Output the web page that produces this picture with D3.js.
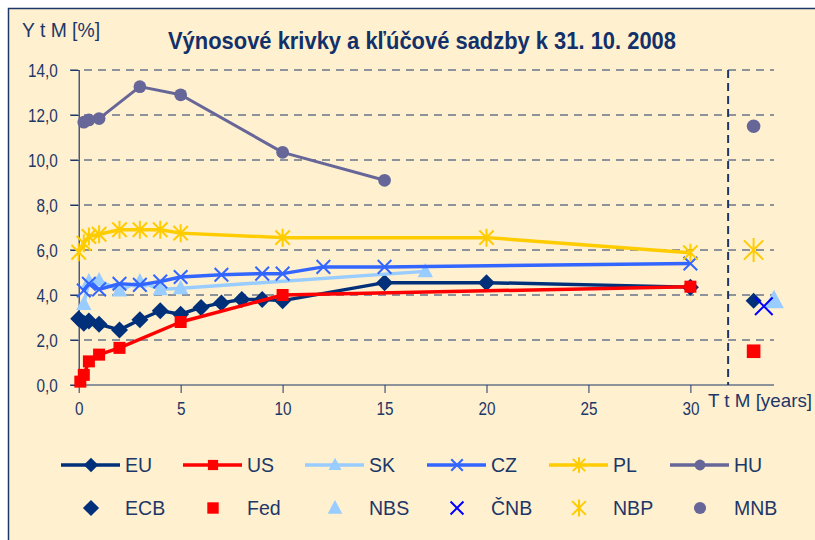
<!DOCTYPE html>
<html>
<head>
<meta charset="utf-8">
<script src="https://cdn.jsdelivr.net/npm/d3@7"></script>
<style>
  body { margin: 0; background: #fff; }
  svg text { font-family: "Liberation Sans", Arial, sans-serif; }
</style>
</head>
<body>
<svg width="815" height="540"></svg>
<script>
// yield curves, maturity in years -> yield in %
const euX = [0, 0.25, 0.5, 1, 2, 3, 4, 5, 6, 7, 8, 9, 10, 15, 20, 30];
const euY = [2.95, 2.75, 2.85, 2.7, 2.45, 2.9, 3.3, 3.15, 3.45, 3.65, 3.8, 3.8, 3.75, 4.55, 4.55, 4.35];
const usX = [0.08, 0.25, 0.5, 1, 2, 5, 10, 30];
const usY = [0.15, 0.45, 1.05, 1.35, 1.65, 2.8, 4.0, 4.37];
const skX = [0.25, 0.5, 1, 2, 3, 4, 5, 17];
const skY = [3.6, 4.6, 4.65, 4.2, 4.6, 4.25, 4.3, 5.05];
const czX = [0.25, 0.5, 1, 2, 3, 4, 5, 7, 9, 10, 12, 15, 30];
const czY = [4.2, 4.5, 4.25, 4.5, 4.45, 4.6, 4.8, 4.9, 4.95, 4.95, 5.25, 5.25, 5.4];
const plX = [0, 0.25, 0.5, 1, 2, 3, 4, 5, 10, 20, 30];
const plY = [5.9, 6.3, 6.6, 6.7, 6.9, 6.9, 6.9, 6.75, 6.55, 6.55, 5.88];
const huX = [0.25, 0.5, 1, 3, 5, 10, 15];
const huY = [11.68, 11.78, 11.84, 13.26, 12.9, 10.34, 9.1];

// key central bank rates, drawn right of the dashed line
const cbNames = ["ECB", "Fed", "NBS", "ČNB", "NBP", "MNB"];
const cbX = [33.1, 33.1, 34.1, 33.6, 33.1, 33.1];
const cbRate = [3.75, 1.5, 3.75, 3.5, 6.0, 11.5];

const curveNames = ["EU", "US", "SK", "CZ", "PL", "HU"];
const xTicks = [0, 5, 10, 15, 20, 25, 30];
const yTicks = [0, 2, 4, 6, 8, 10, 12, 14];

const colors = ["#00307a", "#ff0000", "#99ccff", "#3366ff", "#ffcc00", "#666699"];
const cbColors = ["#00307a", "#ff0000", "#99ccff", "#0000ff", "#ffcc00", "#666699"];
const shapes = ["diamond", "square", "triangle", "cross", "star", "circle"];
const navy = "#1c3768";

const svg = d3.select("svg");

// squeeze text to look like a narrow font
function condense(sel, f) {
    sel.each(function () {
        const w = this.getComputedTextLength();
        d3.select(this).attr("textLength", w * f).attr("lengthAdjust", "spacingAndGlyphs");
    });
}

// panel
svg.append("rect")
    .attr("x", 8.5).attr("y", 8.5)
    .attr("width", 830).attr("height", 560)
    .attr("fill", "#fff0cf")
    .attr("stroke", navy)
    .attr("stroke-width", 1.5);

const x = d3.scaleLinear().domain([0, 34.1]).range([78.7, 774]);
const y = d3.scaleLinear().domain([0, 14]).range([385, 70]);

// gridlines
svg.append("g")
    .selectAll("line")
    .data(yTicks.slice(1))
    .enter()
    .append("line")
    .attr("x1", 70).attr("x2", 774)
    .attr("y1", d => y(d)).attr("y2", d => y(d))
    .attr("stroke", navy)
    .attr("stroke-width", 1)
    .attr("stroke-dasharray", "8,6");

// y axis
const yAxis = svg.append("g")
    .attr("transform", `translate(${x(0)},0)`)
    .call(d3.axisLeft(y).tickValues(yTicks).tickSize(8)
        .tickFormat(d => d3.format(".1f")(d).replace(".", ",")));
yAxis.select(".domain").attr("stroke", navy).attr("stroke-width", 1.2);
yAxis.selectAll(".tick line").attr("stroke", navy);
yAxis.selectAll("text").attr("fill", navy).attr("font-size", 18).attr("x", -21).attr("dy", "0.36em");
condense(yAxis.selectAll("text"), 0.85);

// x axis
const xAxis = svg.append("g")
    .attr("transform", `translate(0,${y(0)})`)
    .call(d3.axisBottom(x).tickValues(xTicks).tickSize(8).tickSizeOuter(0));
xAxis.select(".domain").attr("stroke", navy).attr("stroke-width", 1.2)
    .attr("d", `M70,0H774`);
xAxis.selectAll(".tick line").attr("stroke", navy);
xAxis.selectAll("text").attr("fill", navy).attr("font-size", 18).attr("y", 17);
condense(xAxis.selectAll("text"), 0.85);

// dashed separator
svg.append("line")
    .attr("x1", x(31.85)).attr("x2", x(31.85))
    .attr("y1", y(14)).attr("y2", y(0))
    .attr("stroke", navy)
    .attr("stroke-width", 2)
    .attr("stroke-dasharray", "8,5");

// marker shapes
function marker(g, shape, color, s) {
    if (shape === "diamond") {
        g.append("path").attr("d", `M0,${-s}L${s},0L0,${s}L${-s},0Z`).attr("fill", color);
    } else if (shape === "square") {
        g.append("rect").attr("x", -s * 0.8).attr("y", -s * 0.8)
            .attr("width", s * 1.6).attr("height", s * 1.6).attr("fill", color);
    } else if (shape === "triangle") {
        g.append("path").attr("d", `M0,${-s}L${s * 0.9},${s * 0.7}L${-s * 0.9},${s * 0.7}Z`).attr("fill", color);
    } else if (shape === "cross") {
        const c = s * 0.8;
        g.append("path").attr("d", `M${-c},${-c}L${c},${c}M${-c},${c}L${c},${-c}`)
            .attr("stroke", color).attr("stroke-width", 2).attr("fill", "none");
    } else if (shape === "star") {
        const c = s * 0.8;
        g.append("path").attr("d", `M${-c},${-c}L${c},${c}M${-c},${c}L${c},${-c}M0,${-s}V${s}`)
            .attr("stroke", color).attr("stroke-width", 2).attr("fill", "none");
    } else {
        g.append("circle").attr("r", s * 0.85).attr("fill", color);
    }
}

const sizes = [8.5, 7.5, 8.5, 8.5, 9, 7.5];
const series = [[euX, euY], [usX, usY], [skX, skY], [czX, czY], [plX, plY], [huX, huY]];
const line = d3.line().x(d => x(d[0])).y(d => y(d[1]));

series.forEach(([xs, ys], i) => {
    const pts = xs.map((v, j) => [v, ys[j]]);
    svg.append("path")
        .attr("d", line(pts))
        .attr("fill", "none")
        .attr("stroke", colors[i])
        .attr("stroke-width", i === 5 ? 3 : 3.5)
        .attr("stroke-linejoin", "round");
    pts.forEach(p => {
        const g = svg.append("g").attr("transform", `translate(${x(p[0])},${y(p[1])})`);
        marker(g, shapes[i], colors[i], sizes[i]);
    });
});

// central bank rates
const cbSizes = [8, 8.5, 11, 11, 12, 8];
cbNames.forEach((n, i) => {
    const g = svg.append("g").attr("transform", `translate(${x(cbX[i])},${y(cbRate[i])})`);
    marker(g, shapes[i], cbColors[i], cbSizes[i]);
});

// texts
svg.append("text")
    .attr("x", 22).attr("y", 37)
    .attr("fill", navy)
    .attr("font-size", 20)
    .attr("textLength", 78)
    .attr("lengthAdjust", "spacingAndGlyphs")
    .text("Y t M [%]");

svg.append("text")
    .attr("x", 168).attr("y", 49)
    .attr("fill", "#12306a")
    .attr("font-size", 24)
    .attr("font-weight", "bold")
    .attr("textLength", 508)
    .attr("lengthAdjust", "spacingAndGlyphs")
    .text("Výnosové krivky a kľúčové sadzby k 31. 10. 2008");

svg.append("text")
    .attr("x", 708).attr("y", 407)
    .attr("fill", navy)
    .attr("font-size", 19)
    .attr("textLength", 104)
    .attr("lengthAdjust", "spacingAndGlyphs")
    .text("T t M [years]");

// legend
const legX = [91, 213, 335, 457, 579, 700];
curveNames.forEach((n, i) => {
    const g = svg.append("g").attr("transform", `translate(${legX[i]},465)`);
    g.append("line").attr("x1", -30).attr("x2", 29)
        .attr("stroke", colors[i]).attr("stroke-width", 3.5);
    marker(g, shapes[i], colors[i], sizes[i] * 0.85);
    condense(g.append("text").attr("x", 34).attr("y", 7)
        .attr("fill", navy).attr("font-size", 21).text(n), 0.93);
});
cbNames.forEach((n, i) => {
    const g = svg.append("g").attr("transform", `translate(${legX[i]},508)`);
    marker(g, shapes[i], cbColors[i], sizes[i] * 0.95);
    condense(g.append("text").attr("x", 34).attr("y", 7)
        .attr("fill", navy).attr("font-size", 21).text(n), 0.93);
});
</script>
</body>
</html>
